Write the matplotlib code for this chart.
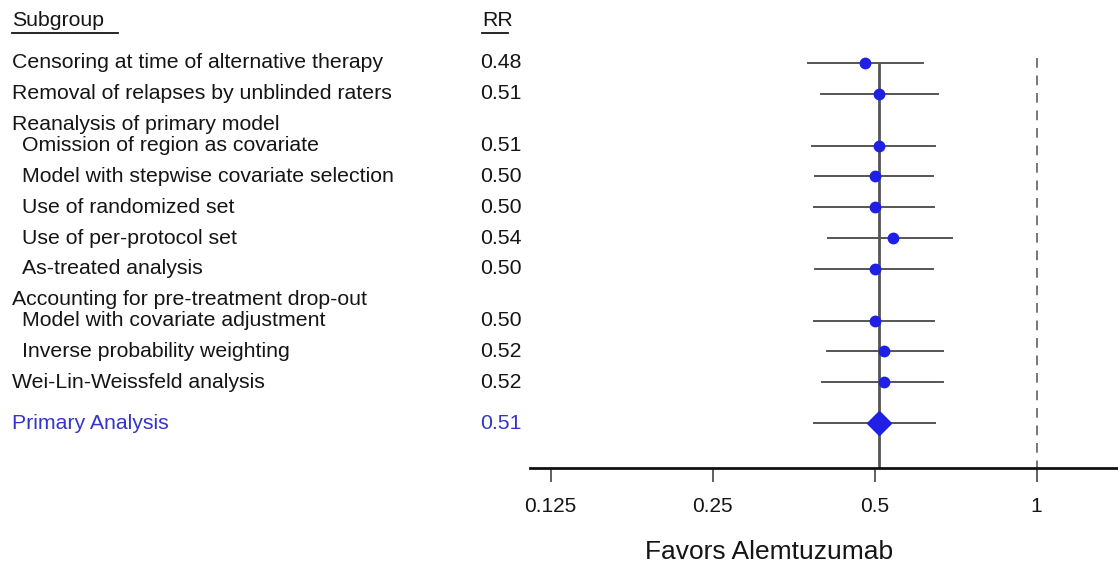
import numpy as np
import matplotlib
matplotlib.use("Agg")
import matplotlib.pyplot as plt
import matplotlib.transforms as mtransforms

plt.rcParams['font.family'] = ['Liberation Sans', 'DejaVu Sans']

# ---- data -------------------------------------------------------------
labels = [
    "Censoring at time of alternative therapy",
    "Removal of relapses by unblinded raters",
    "Reanalysis of primary model",
    "Omission of region as covariate",
    "Model with stepwise covariate selection",
    "Use of randomized set",
    "Use of per-protocol set",
    "As-treated analysis",
    "Accounting for pre-treatment drop-out",
    "Model with covariate adjustment",
    "Inverse probability weighting",
    "Wei-Lin-Weissfeld analysis",
    "Primary Analysis",
]
# row kind: 'row' = estimate, 'head' = section header, 'sub' = indented estimate,
# 'primary' = overall estimate
kinds = ["row", "row", "head", "sub", "sub", "sub", "sub", "sub",
         "head", "sub", "sub", "row", "primary"]
rr = [0.48, 0.51, None, 0.51, 0.50, 0.50, 0.54, 0.50,
      None, 0.50, 0.52, 0.52, 0.51]
ci_low = [0.376, 0.397, None, 0.382, 0.388, 0.385, 0.410, 0.388,
          None, 0.385, 0.408, 0.399, 0.385]
ci_high = [0.616, 0.656, None, 0.648, 0.642, 0.645, 0.697, 0.642,
           None, 0.645, 0.670, 0.670, 0.648]
tick_vals = [0.125, 0.25, 0.5, 1]
tick_labels = ["0.125", "0.25", "0.5", "1"]
x_title = "Favors Alemtuzumab"

# ---- layout -------------------------------------------------------------
W, H = 1118, 574
fig = plt.figure(figsize=(W / 100, H / 100), dpi=100)
fig.patch.set_facecolor("white")

ax_left, ax_right, ax_top, ax_bottom = 530, 1118, 40, 468
ax = fig.add_axes([ax_left / W, 1 - ax_bottom / H,
                   (ax_right - ax_left) / W, (ax_bottom - ax_top) / H])

# vertical positions (top-down units): regular step, tighter after headers,
# extra gap before the primary analysis
ypos = []
y = 63
for i, k in enumerate(kinds):
    if i > 0:
        prev = kinds[i - 1]
        if prev == "head":
            y += 21
        elif k == "primary":
            y += 41
        else:
            y += 30.8
    ypos.append(y)

ax.set_ylim(ax_bottom, ax_top)
ax.set_xscale("log", base=2)
ax.set_xlim(0.1144, 1.417)

txt_color = "#151515"
blue = "#1f1fe6"
text_blue = "#3535cc"
fs = 15.3

trans = mtransforms.blended_transform_factory(fig.transFigure, ax.transData)

# column headers, underlined
ax.text(12 / W, 21, "Subgroup", transform=trans, fontsize=fs, color=txt_color,
        va="center", ha="left", clip_on=False)
ax.text(482 / W, 21, "RR", transform=trans, fontsize=fs, color=txt_color,
        va="center", ha="left", clip_on=False)
fig.add_artist(plt.Line2D([12 / W, 118 / W], [1 - 33 / H, 1 - 33 / H],
                          color=txt_color, lw=1.3))
fig.add_artist(plt.Line2D([482 / W, 508 / W], [1 - 33 / H, 1 - 33 / H],
                          color=txt_color, lw=1.3))

for lab, k, yv, v in zip(labels, kinds, ypos, rr):
    x0 = 22 if k == "sub" else 12
    col = text_blue if k == "primary" else txt_color
    ax.text(x0 / W, yv, lab, transform=trans, fontsize=fs, color=col,
            va="center", ha="left", clip_on=False)
    if v is not None:
        ax.text(480 / W, yv, f"{v:.2f}", transform=trans, fontsize=fs,
                color=col, va="center", ha="left", clip_on=False)

# reference lines
overall = rr[kinds.index("primary")]
ax.plot([overall, overall], [ypos[0], ax_bottom], color="#555555", lw=2,
        zorder=1, solid_capstyle="butt")
ax.plot([1, 1], [ypos[0] - 5, ax_bottom + 10], color="#777777", lw=1.4,
        ls=(0, (5, 4)), zorder=1, clip_on=False)

# confidence intervals and estimates
for k, yv, v, lo, hi in zip(kinds, ypos, rr, ci_low, ci_high):
    if v is None:
        continue
    ax.plot([lo, hi], [yv, yv], color="#555555", lw=1.4, zorder=2)
    if k == "primary":
        ax.plot(v, yv, marker="D", ms=12, color=blue, mec=blue, zorder=3)
    else:
        ax.plot(v, yv, marker="o", ms=7.5, color=blue, mec=blue, zorder=3)

# axes styling
for s in ["top", "right", "left"]:
    ax.spines[s].set_visible(False)
ax.spines["bottom"].set_linewidth(2)
ax.spines["bottom"].set_color("#111111")
ax.set_yticks([])
ax.set_xticks(tick_vals)
ax.set_xticklabels(tick_labels)
ax.xaxis.set_minor_locator(matplotlib.ticker.NullLocator())
ax.tick_params(axis="x", length=10, width=1.2, color="#444444",
               labelsize=15, labelcolor=txt_color, pad=11)
ax.text((769 - ax_left) / (ax_right - ax_left),
        -(552 - ax_bottom) / (ax_bottom - ax_top), x_title,
        transform=ax.transAxes, fontsize=19, color=txt_color,
        ha="center", va="center", clip_on=False)
ax.patch.set_alpha(0)

fig.savefig("out.png", dpi=100, facecolor="white")
